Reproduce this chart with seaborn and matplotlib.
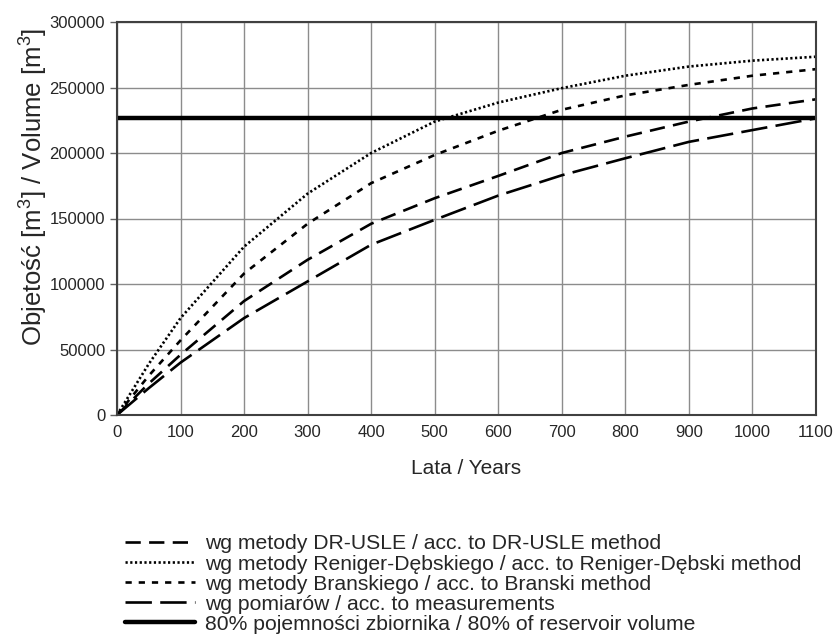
import pandas as pd
import matplotlib
matplotlib.use("Agg")
import matplotlib.pyplot as plt
import seaborn as sns

years = [0, 50, 100, 200, 300, 400, 500, 600, 700, 800, 900, 1000, 1100]
dr_usle = [0, 24000, 46000, 87000, 118500, 146000, 165500, 182500, 200000, 212500, 224000, 234000, 241000]
reniger = [0, 39000, 74000, 128500, 169000, 200000, 224000, 238500, 249500, 259000, 266000, 270500, 273500]
branski = [0, 30000, 57000, 108000, 146000, 177000, 198500, 217000, 233000, 244000, 252000, 259000, 264000]
measured = [0, 20500, 40000, 74000, 102000, 130000, 149000, 167500, 183000, 196000, 208500, 217500, 226500]
reservoir_80 = 227000

labels = [
    "wg metody DR-USLE / acc. to DR-USLE method",
    "wg metody Reniger-Dębskiego / acc. to Reniger-Dębski method",
    "wg metody Branskiego / acc. to Branski method",
    "wg pomiarów / acc. to measurements",
    "80% pojemności zbiornika / 80% of reservoir volume",
]

sns.set_theme(style="white")
plt.rcParams["font.family"] = ["Liberation Sans", "DejaVu Sans"]
plt.rcParams["mathtext.fontset"] = "custom"
plt.rcParams["mathtext.rm"] = "Liberation Sans"
plt.rcParams["mathtext.it"] = "Liberation Sans"
plt.rcParams["lines.scale_dashes"] = False
txt = "#262626"

fig = plt.figure(figsize=(8.34, 6.35), dpi=100)
ax = fig.add_axes([117 / 834, 1 - 415 / 635, (816 - 117) / 834, (415 - 22) / 635])

series = [dr_usle, reniger, branski, measured]
dash_styles = [(11, 6), (1.6, 1.8), (4.5, 5), (19, 6)]
handles = []
for vals, dsh in zip(series, dash_styles):
    df = pd.DataFrame({"year": years, "volume": vals})
    sns.lineplot(data=df, x="year", y="volume", ax=ax, color="black", lw=1.9, legend=False)
    line = ax.lines[-1]
    line.set_dashes(dsh)
    handles.append(line)

hl = ax.axhline(reservoir_80, color="black", lw=3.2)
handles.append(hl)

ax.set_xlim(0, 1100)
ax.set_ylim(0, 300000)
ax.set_xticks(range(0, 1101, 100))
ax.set_yticks(range(0, 300001, 50000))
ax.grid(True, color="#8c8c8c", lw=1)
ax.set_axisbelow(True)
for sp in ax.spines.values():
    sp.set_color("#404040")
    sp.set_linewidth(1.5)
ax.tick_params(axis="both", labelsize=12, colors=txt, color="#606060", direction="out")
ax.tick_params(axis="y", left=True, length=5, width=1)
ax.tick_params(axis="x", bottom=False, pad=1)
ax.set_xlabel("Lata / Years", fontsize=15, color=txt, labelpad=14)
ax.set_ylabel("Objetość [m$^3$] / Volume [m$^3$]", fontsize=18.5, color=txt)
ax.yaxis.set_label_coords(-0.096, 0.58)

fig.legend(handles=handles, labels=labels, loc="upper left",
           bbox_to_anchor=(117 / 834, 1 - 526 / 635), frameon=False,
           fontsize=15.2, handlelength=3.3, handletextpad=0.48,
           labelspacing=0.05, borderaxespad=0, labelcolor=txt)

fig.savefig("out.png", dpi=100)
